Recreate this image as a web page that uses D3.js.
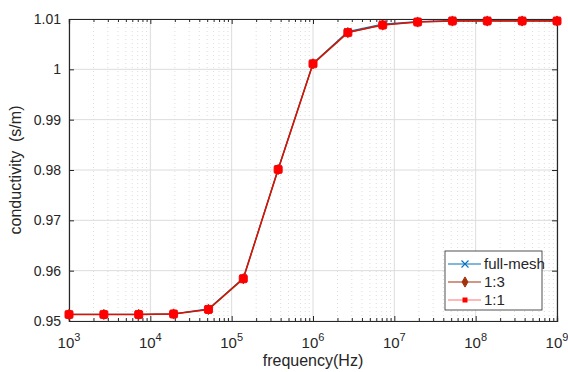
<!DOCTYPE html>
<html>
<head>
<meta charset="utf-8">
<script src="https://cdn.jsdelivr.net/npm/d3@7/dist/d3.min.js"></script>
<style>
  body { margin: 0; background: #fff; }
  text { font-family: "Liberation Sans", Arial, Helvetica, sans-serif; fill: #262626; }
</style>
</head>
<body>
<div id="chart"></div>
<script>
// frequency samples (Hz)
const freq = [1e3, 2.683e3, 7.197e3, 1.931e4, 5.179e4, 1.389e5, 3.728e5, 1e6,
              2.683e6, 7.197e6, 1.931e7, 5.179e7, 1.389e8, 3.728e8, 1e9];
// conductivity (s/m) for each mesh
const fullMesh = [0.9513, 0.9513, 0.9513, 0.9514, 0.9524, 0.9585, 0.9802, 1.0012,
                  1.0075, 1.0090, 1.0095, 1.0097, 1.0097, 1.0097, 1.0097];
const ratio13 = [0.9513, 0.9513, 0.9513, 0.9514, 0.9523, 0.9584, 0.9801, 1.0011,
                 1.0073, 1.0088, 1.0094, 1.0096, 1.0096, 1.0096, 1.0096];
const ratio11 = [0.9513, 0.9513, 0.9513, 0.9514, 0.9523, 0.9584, 0.9801, 1.0011,
                 1.0073, 1.0088, 1.0094, 1.0096, 1.0096, 1.0096, 1.0096];
const yTicks = [0.95, 0.96, 0.97, 0.98, 0.99, 1, 1.01];
const xTickExp = [3, 4, 5, 6, 7, 8, 9];
const seriesNames = ['full-mesh', '1:3', '1:1'];

const width = 568, height = 372;
const margin = { top: 19, right: 11, bottom: 51, left: 69 };
const iw = width - margin.left - margin.right;
const ih = height - margin.top - margin.bottom;

const svg = d3.select('#chart').append('svg')
  .attr('width', width).attr('height', height);
const g = svg.append('g').attr('transform', `translate(${margin.left},${margin.top})`);

const x = d3.scaleLog().domain([1e3, 1e9]).range([0, iw]);
const y = d3.scaleLinear().domain([0.95, 1.01]).range([ih, 0]);

const axisColor = '#262626';
const majors = xTickExp.map(e => Math.pow(10, e));
const minors = [];
xTickExp.slice(0, -1).forEach(e => {
  for (let k = 2; k <= 9; k++) minors.push(k * Math.pow(10, e));
});

// grid
g.append('g').selectAll('line').data(minors).enter().append('line')
  .attr('x1', d => x(d)).attr('x2', d => x(d)).attr('y1', 0).attr('y2', ih)
  .attr('stroke', '#d4d4d4').attr('stroke-width', 0.8).attr('stroke-dasharray', '1,3');
g.append('g').selectAll('line').data(majors).enter().append('line')
  .attr('x1', d => x(d)).attr('x2', d => x(d)).attr('y1', 0).attr('y2', ih)
  .attr('stroke', '#dcdcdc').attr('stroke-width', 1);
g.append('g').selectAll('line').data(yTicks).enter().append('line')
  .attr('x1', 0).attr('x2', iw).attr('y1', d => y(d)).attr('y2', d => y(d))
  .attr('stroke', '#dcdcdc').attr('stroke-width', 1);

// axes (ticks inward on all four sides)
const xb = d3.axisBottom(x).tickValues(majors).tickSize(-5).tickFormat('');
const xbm = d3.axisBottom(x).tickValues(minors).tickSize(-3).tickFormat('');
const xt = d3.axisTop(x).tickValues(majors).tickSize(-5).tickFormat('');
const xtm = d3.axisTop(x).tickValues(minors).tickSize(-3).tickFormat('');
const yl = d3.axisLeft(y).tickValues(yTicks).tickSize(-5).tickFormat('');
const yr = d3.axisRight(y).tickValues(yTicks).tickSize(-5).tickFormat('');

function styleAxis(sel) {
  sel.selectAll('path').attr('stroke', axisColor);
  sel.selectAll('line').attr('stroke', axisColor);
}
g.append('g').attr('transform', `translate(0,${ih})`).call(xb).call(styleAxis);
g.append('g').attr('transform', `translate(0,${ih})`).call(xbm).call(styleAxis);
g.append('g').call(xt).call(styleAxis);
g.append('g').call(xtm).call(styleAxis);
g.append('g').call(yl).call(styleAxis);
g.append('g').attr('transform', `translate(${iw},0)`).call(yr).call(styleAxis);
g.selectAll('.domain').attr('stroke-width', 1.2);

// tick labels
const xl = g.append('g').selectAll('text').data(xTickExp).enter().append('text')
  .attr('x', d => x(Math.pow(10, d)))
  .attr('y', ih + 27)
  .attr('text-anchor', 'middle')
  .style('font-size', '15px');
xl.append('tspan').text('10');
xl.append('tspan').attr('dy', -7).style('font-size', '11px').text(d => d);

g.append('g').selectAll('text').data(yTicks).enter().append('text')
  .attr('x', -8).attr('y', d => y(d)).attr('dy', '0.35em')
  .attr('text-anchor', 'end').style('font-size', '14px')
  .text(d => d);

// axis titles
g.append('text').attr('x', iw / 2).attr('y', ih + 45)
  .attr('text-anchor', 'middle').style('font-size', '16px').text('frequency(Hz)');
g.append('text').attr('transform', `translate(${-48},${ih / 2}) rotate(-90)`)
  .attr('text-anchor', 'middle').style('font-size', '16px')
  .attr('xml:space', 'preserve').style('white-space', 'pre')
  .text('conductivity  (s/m)');

// series
const series = [
  { name: seriesNames[0], values: fullMesh, color: '#0072BD', marker: 'x', width: 1.2 },
  { name: seriesNames[1], values: ratio13, color: '#A2320B', marker: 'diamond', width: 1.6 },
  { name: seriesNames[2], values: ratio11, color: '#FF0000', marker: 'square', width: 0.9 }
];

const line = d3.line().x((d, i) => x(freq[i])).y(d => y(d));

function drawMarker(sel, s, size) {
  if (s.marker === 'x') {
    sel.append('path').attr('d', 'M-3.5,-3.5L3.5,3.5M-3.5,3.5L3.5,-3.5')
      .attr('stroke', s.color).attr('stroke-width', 1.1).attr('fill', 'none');
  } else if (s.marker === 'diamond') {
    sel.append('path').attr('d', d3.symbol(d3.symbolDiamond, 30)())
      .attr('fill', s.color).attr('stroke', s.color);
  } else {
    const h = size / 2;
    sel.append('rect').attr('x', -h).attr('y', -h).attr('width', size).attr('height', size)
      .attr('rx', size > 6 ? 1.5 : 0).attr('fill', s.color)
      .attr('stroke', size > 6 ? s.color : 'none');
  }
}

series.forEach(s => {
  g.append('path').datum(s.values).attr('d', line)
    .attr('fill', 'none').attr('stroke', s.color).attr('stroke-width', s.width);
  g.append('g').selectAll('g').data(s.values).enter().append('g')
    .attr('transform', (d, i) => `translate(${x(freq[i])},${y(d)})`)
    .each(function () { drawMarker(d3.select(this), s, 8); });
});

// legend
const lg = svg.append('g').attr('transform', 'translate(445,251)');
lg.append('rect').attr('width', 97).attr('height', 59)
  .attr('fill', '#fff').attr('stroke', axisColor).attr('stroke-width', 0.8);
series.forEach((s, i) => {
  const row = lg.append('g').attr('transform', `translate(0,${13 + i * 18})`);
  row.append('line').attr('x1', 3).attr('x2', 36).attr('y1', 0).attr('y2', 0)
    .attr('stroke', s.color).attr('stroke-width', i === 2 ? 0.8 : 1.2)
    .attr('stroke-opacity', i === 2 ? 0.7 : 1);
  drawMarker(row.append('g').attr('transform', 'translate(20,0)'), s, 5);
  row.append('text').attr('x', 39).attr('y', 0).attr('dy', '0.35em')
    .style('font-size', '15px').text(s.name);
});
</script>
</body>
</html>
